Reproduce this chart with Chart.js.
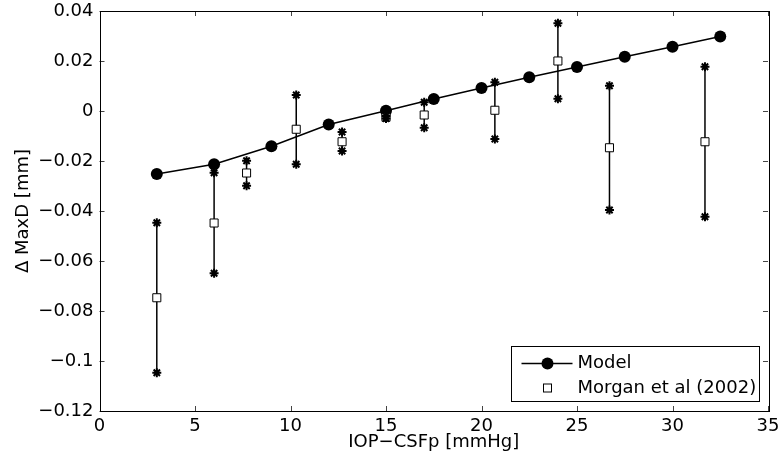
<!DOCTYPE html>
<html>
<head>
<meta charset="utf-8">
<script src="https://cdn.jsdelivr.net/npm/chart.js@4"></script>
<style>
  body { margin: 0; background: #fff; }
  canvas { display: block; }
</style>
</head>
<body>
<canvas id="chart" width="780" height="465"></canvas>
<script>
// Model curve
const modelX = [3, 6, 9, 12, 15, 17.5, 20, 22.5, 25, 27.5, 30, 32.5];
const modelY = [-0.0252, -0.0213, -0.0141, -0.0054, 0.0001, 0.0048, 0.0092, 0.0135, 0.0176, 0.0217, 0.0257, 0.0298];

// Morgan et al (2002) measurements with ranges
const morganX = [3, 6, 7.7, 10.3, 12.7, 15, 17, 20.7, 24, 26.7, 31.7];
const morganMean = [-0.0747, -0.0448, -0.0248, -0.0073, -0.0123, -0.0025, -0.0016, 0.0003, 0.0200, -0.0147, -0.0123];
const morganLow = [-0.1047, -0.0649, -0.0299, -0.0213, -0.0160, -0.0030, -0.0067, -0.0112, 0.0049, -0.0396, -0.0423];
const morganHigh = [-0.0447, -0.0247, -0.0199, 0.0064, -0.0084, -0.0020, 0.0035, 0.0115, 0.0351, 0.0101, 0.0177];

// Axis ticks
const xTicks = [0, 5, 10, 15, 20, 25, 30, 35];
const xTickLabels = ['0', '5', '10', '15', '20', '25', '30', '35'];
const yTicks = [-0.12, -0.1, -0.08, -0.06, -0.04, -0.02, 0, 0.02, 0.04];
const yTickLabels = ['\u22120.12', '\u22120.1', '\u22120.08', '\u22120.06', '\u22120.04', '\u22120.02', '0', '0.02', '0.04'];

const legendLabels = ['Model', 'Morgan et al (2002)'];

Chart.defaults.font.family = "'DejaVu Sans', sans-serif";
Chart.defaults.font.size = 18;
Chart.defaults.color = '#000';

const modelData = modelX.map((x, i) => ({ x: x, y: modelY[i] }));
const meanData = morganX.map((x, i) => ({ x: x, y: morganMean[i] }));
const starData = [];
const barData = [];
morganX.forEach((x, i) => {
    starData.push({ x: x, y: morganLow[i] }, { x: x, y: morganHigh[i] });
    barData.push({ x: x, y: morganLow[i] }, { x: x, y: morganHigh[i] }, { x: x, y: null });  // null breaks the line
});

// Box frame with inward ticks on all four sides (MATLAB style)
const framePlugin = {
    id: 'frame',
    afterDraw(chart) {
        const { ctx, chartArea: a, scales } = chart;
        const len = 5;
        ctx.save();
        ctx.strokeStyle = '#444';
        ctx.lineWidth = 1;
        ctx.beginPath();
        xTicks.forEach(v => {
            const px = Math.round(scales.x.getPixelForValue(v)) + 0.5;
            ctx.moveTo(px, a.bottom); ctx.lineTo(px, a.bottom - len);
            ctx.moveTo(px, a.top); ctx.lineTo(px, a.top + len);
        });
        yTicks.forEach(v => {
            const py = Math.round(scales.y.getPixelForValue(v)) + 0.5;
            ctx.moveTo(a.left, py); ctx.lineTo(a.left + len, py);
            ctx.moveTo(a.right, py); ctx.lineTo(a.right - len, py);
        });
        ctx.stroke();
        ctx.strokeStyle = '#000';
        ctx.strokeRect(Math.round(a.left) + 0.5, Math.round(a.top) + 0.5,
            Math.round(a.right - a.left), Math.round(a.bottom - a.top));
        ctx.restore();
    }
};

// Legend box inside the lower right corner of the plot
const legendPlugin = {
    id: 'insideLegend',
    afterDraw(chart) {
        const { ctx, chartArea: a } = chart;
        const w = 248, h = 55;
        const x0 = Math.round(a.right - 9 - w) + 0.5;
        const y0 = Math.round(a.bottom - 10 - h) + 0.5;
        ctx.save();
        ctx.fillStyle = '#fff';
        ctx.fillRect(x0, y0, w, h);
        ctx.strokeStyle = '#000';
        ctx.lineWidth = 1;
        ctx.strokeRect(x0, y0, w, h);

        const r1 = y0 + 17, r2 = y0 + 41.5;
        const mx = x0 + 36;
        // Model sample
        ctx.lineWidth = 1.5;
        ctx.beginPath();
        ctx.moveTo(x0 + 10, r1); ctx.lineTo(x0 + 61, r1);
        ctx.stroke();
        ctx.fillStyle = '#000';
        ctx.beginPath();
        ctx.arc(mx, r1, 6, 0, Math.PI * 2);
        ctx.fill();
        // Morgan sample
        ctx.lineWidth = 1;
        ctx.fillStyle = '#fff';
        ctx.fillRect(mx - 4, r2 - 4, 8, 8);
        ctx.strokeRect(mx - 4, r2 - 4, 8, 8);

        ctx.fillStyle = '#000';
        ctx.font = "18px 'DejaVu Sans', sans-serif";
        ctx.textBaseline = 'middle';
        ctx.textAlign = 'left';
        ctx.fillText(legendLabels[0], x0 + 66, r1);
        ctx.fillText(legendLabels[1], x0 + 66, r2);
        ctx.restore();
    }
};

const ctx = document.getElementById('chart').getContext('2d');
const chart = new Chart(ctx, {
    type: 'scatter',
    data: {
        datasets: [
            {
                label: 'Model',
                data: modelData,
                showLine: true,
                borderColor: '#000',
                borderWidth: 1.5,
                backgroundColor: '#000',
                pointRadius: 6,
                pointBorderWidth: 0,
                pointStyle: 'circle',
                tension: 0,
                order: 3
            },
            {
                label: 'range',
                data: barData,
                showLine: true,
                spanGaps: false,
                borderColor: '#000',
                borderWidth: 1.5,
                pointRadius: 0,
                order: 2
            },
            {
                label: 'Morgan et al (2002)',
                data: meanData,
                showLine: false,
                pointStyle: 'rect',
                pointRadius: 5.7,
                borderColor: '#000',
                backgroundColor: '#fff',
                pointBorderWidth: 1,
                order: 1
            },
            {
                label: 'ends',
                data: starData,
                showLine: false,
                pointStyle: 'star',
                pointRadius: 4.5,
                borderColor: '#000',
                pointBorderWidth: 2,
                order: 0
            }
        ]
    },
    options: {
        responsive: false,
        animation: false,
        events: [],
        layout: { padding: { top: 11, right: 12, left: 0.5, bottom: 0 } },
        plugins: {
            legend: { display: false },
            tooltip: { enabled: false }
        },
        scales: {
            x: {
                type: 'linear',
                min: 0,
                max: 35,
                grid: { display: false, drawTicks: false },
                border: { display: false },
                afterBuildTicks: scale => { scale.ticks = xTicks.map(v => ({ value: v })); },
                afterFit: scale => {
                    scale.height = 54;
                    scale.paddingLeft = 0;
                    scale.paddingRight = 0;
                },
                ticks: {
                    padding: 5,
                    maxRotation: 0,
                    autoSkip: false,
                    callback: (value, index) => xTickLabels[index]
                },
                title: {
                    display: true,
                    text: 'IOP\u2212CSFp [mmHg]',
                    padding: { top: 0, bottom: 12 }
                }
            },
            y: {
                type: 'linear',
                min: -0.12,
                max: 0.04,
                grid: { display: false, drawTicks: false },
                border: { display: false },
                afterBuildTicks: scale => { scale.ticks = yTicks.map(v => ({ value: v })); },
                afterFit: scale => {
                    scale.width = 99;
                    scale.paddingTop = 0;
                    scale.paddingBottom = 0;
                },
                ticks: {
                    padding: 6,
                    autoSkip: false,
                    callback: (value, index) => yTickLabels[index]
                },
                title: {
                    display: true,
                    text: '\u0394 MaxD [mm]',
                    padding: { top: 12, bottom: 0 }
                }
            }
        }
    },
    plugins: [framePlugin, legendPlugin]
});
</script>
</body>
</html>
